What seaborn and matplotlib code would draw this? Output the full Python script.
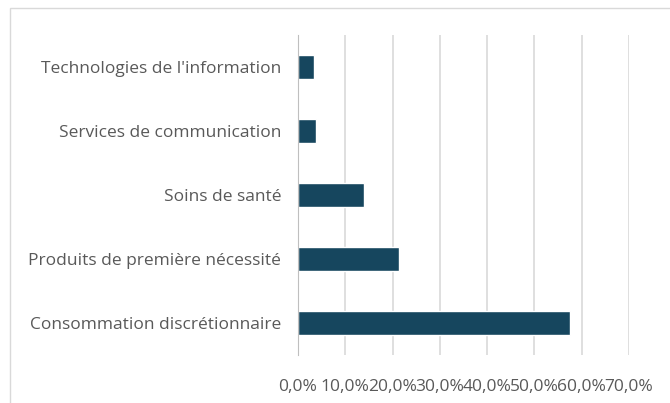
import pandas as pd
import matplotlib.pyplot as plt
import seaborn as sns
from matplotlib.patches import Rectangle
from matplotlib.ticker import FuncFormatter

secteurs = [
    "Technologies de l'information",
    "Services de communication",
    "Soins de santé",
    "Produits de première nécessité",
    "Consommation discrétionnaire",
]
poids = [3.4, 3.9, 14.0, 21.4, 57.6]
graduations = [0, 10, 20, 30, 40, 50, 60, 70]

df = pd.DataFrame({"Secteur": secteurs, "Poids": poids})

sns.set_style("white")
plt.rcParams["font.family"] = ["Open Sans", "DejaVu Sans"]

fig = plt.figure(figsize=(6.7, 4.03), dpi=100)
ax = fig.add_axes([0.4448, 0.119, 0.494, 0.794])

# cadre du graphique
fig.patches.append(Rectangle((10 / 670, -0.01), 1.0, 1 - 8 / 403 + 0.01,
                             transform=fig.transFigure, fill=False,
                             edgecolor="#d9d9d9", linewidth=1))

sns.barplot(data=df, x="Poids", y="Secteur", orient="h",
            color="#16465e", width=0.38, saturation=1, ax=ax, zorder=3)

ax.set_xlim(0, 70)
ax.set_xticks(graduations)
ax.xaxis.set_major_formatter(FuncFormatter(lambda v, p: f"{v:.1f}".replace(".", ",") + "%"))
ax.grid(axis="x", color="#d9d9d9", linewidth=1.2, zorder=0)
ax.set_xlabel("")
ax.set_ylabel("")

for s in ["top", "right", "bottom"]:
    ax.spines[s].set_visible(False)
ax.spines["left"].set_color("#bfbfbf")
ax.spines["left"].set_zorder(4)

ax.tick_params(axis="both", length=0, colors="#595959", labelsize=12.5)
ax.tick_params(axis="x", pad=17)
ax.tick_params(axis="y", pad=12)

fig.savefig("out.png", dpi=100)
